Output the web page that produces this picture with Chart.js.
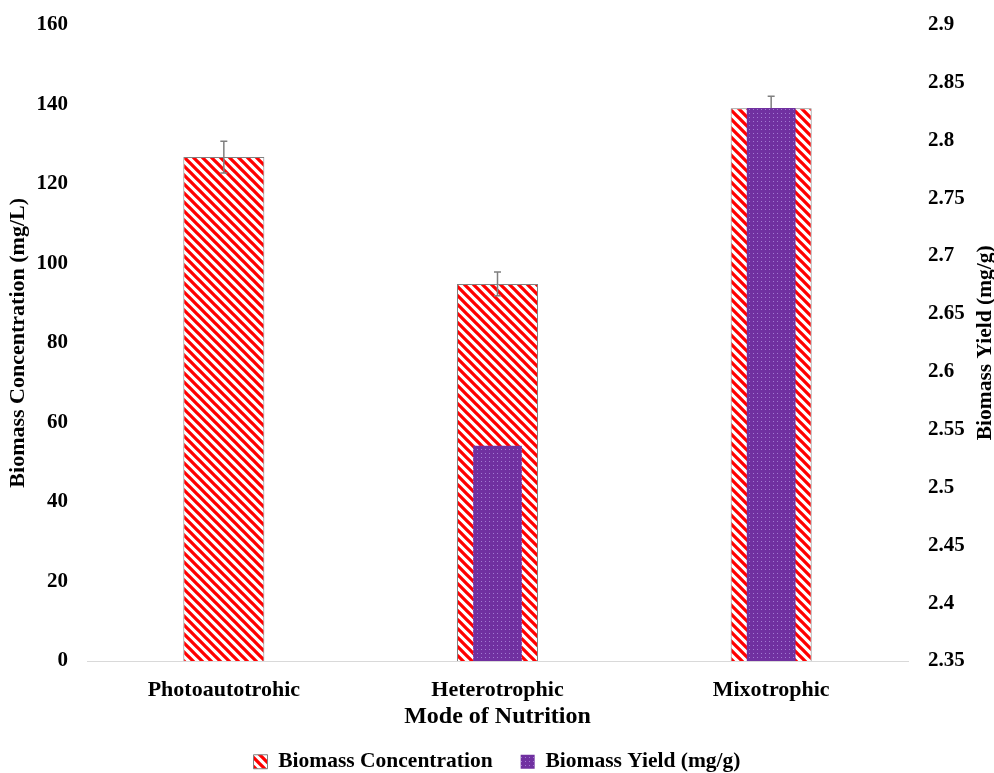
<!DOCTYPE html>
<html>
<head>
<meta charset="utf-8">
<script src="https://cdn.jsdelivr.net/npm/chart.js@4/dist/chart.umd.min.js"></script>
<style>
html,body{margin:0;padding:0;background:#fff;}
canvas{display:block;}
</style>
</head>
<body>
<canvas id="c" width="994" height="773"></canvas>
<script>
const categories = ['Photoautotrohic', 'Heterotrophic', 'Mixotrophic'];
const concentration = [126.7, 94.8, 139.0];
const concentrationError = [4, 3, 3];
const biomassYield = [null, 2.536, 2.828];
const leftTickLabels = ['0', '20', '40', '60', '80', '100', '120', '140', '160'];
const rightTickLabels = ['2.35', '2.4', '2.45', '2.5', '2.55', '2.6', '2.65', '2.7', '2.75', '2.8', '2.85', '2.9'];

const FONT = "'Liberation Serif', 'Times New Roman', serif";

function hatchPattern() {
  const s = 9;
  const cv = document.createElement('canvas');
  cv.width = s; cv.height = s;
  const x = cv.getContext('2d');
  x.fillStyle = '#ffffff';
  x.fillRect(0, 0, s, s);
  x.strokeStyle = '#ff0000';
  x.lineWidth = 3.3;
  x.beginPath();
  x.moveTo(-2, -2); x.lineTo(s + 2, s + 2);
  x.moveTo(-2, s - 2); x.lineTo(2, s + 2);
  x.moveTo(s - 2, -2); x.lineTo(s + 2, 2);
  x.stroke();
  return x.createPattern(cv, 'repeat');
}
function dotPattern() {
  const s = 4;
  const cv = document.createElement('canvas');
  cv.width = s; cv.height = s;
  const x = cv.getContext('2d');
  x.fillStyle = '#7030a0';
  x.fillRect(0, 0, s, s);
  x.fillStyle = '#a27ad2';
  x.fillRect(1, 1, 1, 1);
  return x.createPattern(cv, 'repeat');
}

const errorBars = {
  id: 'errorBars',
  afterDatasetDraw(chart, args) {
    if (args.index !== 0) return;
    const ctx = chart.ctx;
    const y = chart.scales.y;
    const meta = args.meta;
    ctx.save();
    ctx.strokeStyle = '#7f7f7f';
    ctx.lineWidth = 1.5;
    meta.data.forEach((bar, i) => {
      const v = concentration[i], e = concentrationError[i];
      const top = y.getPixelForValue(v + e);
      const bot = y.getPixelForValue(v - e);
      ctx.beginPath();
      ctx.moveTo(bar.x, top); ctx.lineTo(bar.x, bot);
      ctx.moveTo(bar.x - 3.5, top); ctx.lineTo(bar.x + 3.5, top);
      ctx.moveTo(bar.x - 3.5, bot); ctx.lineTo(bar.x + 3.5, bot);
      ctx.stroke();
    });
    ctx.restore();
  }
};

const rightTitle = {
  id: 'rightTitle',
  afterDraw(chart) {
    const ctx = chart.ctx;
    const a = chart.chartArea;
    ctx.save();
    ctx.translate(985, (a.top + a.bottom) / 2);
    ctx.rotate(-Math.PI / 2);
    ctx.font = "bold 21.5px " + FONT;
    ctx.fillStyle = '#000';
    ctx.textAlign = 'center';
    ctx.textBaseline = 'middle';
    ctx.fillText('Biomass Yield (mg/g)', 0, 0);
    ctx.restore();
  }
};

new Chart(document.getElementById('c'), {
  type: 'bar',
  data: {
    labels: categories,
    datasets: [
      {
        label: 'Biomass Concentration',
        data: concentration,
        yAxisID: 'y',
        backgroundColor: hatchPattern(),
        borderColor: '#808080',
        borderWidth: 1,
        barPercentage: 0.296,
        categoryPercentage: 1,
        grouped: false,
        order: 2
      },
      {
        label: 'Biomass Yield (mg/g)',
        data: biomassYield,
        yAxisID: 'y2',
        backgroundColor: dotPattern(),
        borderWidth: 0,
        barPercentage: 0.178,
        categoryPercentage: 1,
        grouped: false,
        order: 1
      }
    ]
  },
  options: {
    responsive: false,
    animation: false,
    layout: { padding: { top: 14, left: 0, right: 0, bottom: -9.5 } },
    plugins: {
      tooltip: { enabled: false },
      legend: {
        position: 'bottom',
        labels: {
          color: '#000',
          font: { family: FONT, size: 21.5, weight: 'bold' },
          boxWidth: 14,
          boxHeight: 14,
          padding: 28,
          sort: (a, b) => a.datasetIndex - b.datasetIndex
        }
      }
    },
    scales: {
      x: {
        grid: { display: false },
        border: { display: true, color: '#d9d9d9', width: 1 },
        ticks: { color: '#000', font: { family: FONT, size: 22, weight: 'bold' }, padding: 8, maxRotation: 0 },
        title: {
          display: true,
          text: 'Mode of Nutrition',
          color: '#000',
          font: { family: FONT, size: 24, weight: 'bold' },
          padding: { top: 0, bottom: -8.4 }
        },
        afterFit(s) { s.height = 62; }
      },
      y: {
        position: 'left',
        min: 0, max: 160,
        grid: { display: false },
        border: { display: false },
        afterBuildTicks(s) { s.ticks = leftTickLabels.map(t => ({ value: parseFloat(t) })); },
        ticks: {
          color: '#000',
          font: { family: FONT, size: 21, weight: 'bold' },
          padding: 11,
          callback: (v, i) => leftTickLabels[i]
        },
        title: {
          display: true,
          text: 'Biomass Concentration (mg/L)',
          color: '#000',
          font: { family: FONT, size: 22, weight: 'bold' },
          padding: { top: 5, bottom: 0 }
        },
        afterFit(s) { s.width = 87; }
      },
      y2: {
        position: 'right',
        min: 2.35, max: 2.9,
        grid: { display: false },
        border: { display: false },
        afterBuildTicks(s) { s.ticks = rightTickLabels.map(t => ({ value: parseFloat(t) })); },
        ticks: {
          color: '#000',
          font: { family: FONT, size: 21, weight: 'bold' },
          padding: 12,
          callback: (v, i) => rightTickLabels[i]
        },
        afterFit(s) { s.width = 86; }
      }
    }
  },
  plugins: [errorBars, rightTitle]
});
</script>
</body>
</html>
